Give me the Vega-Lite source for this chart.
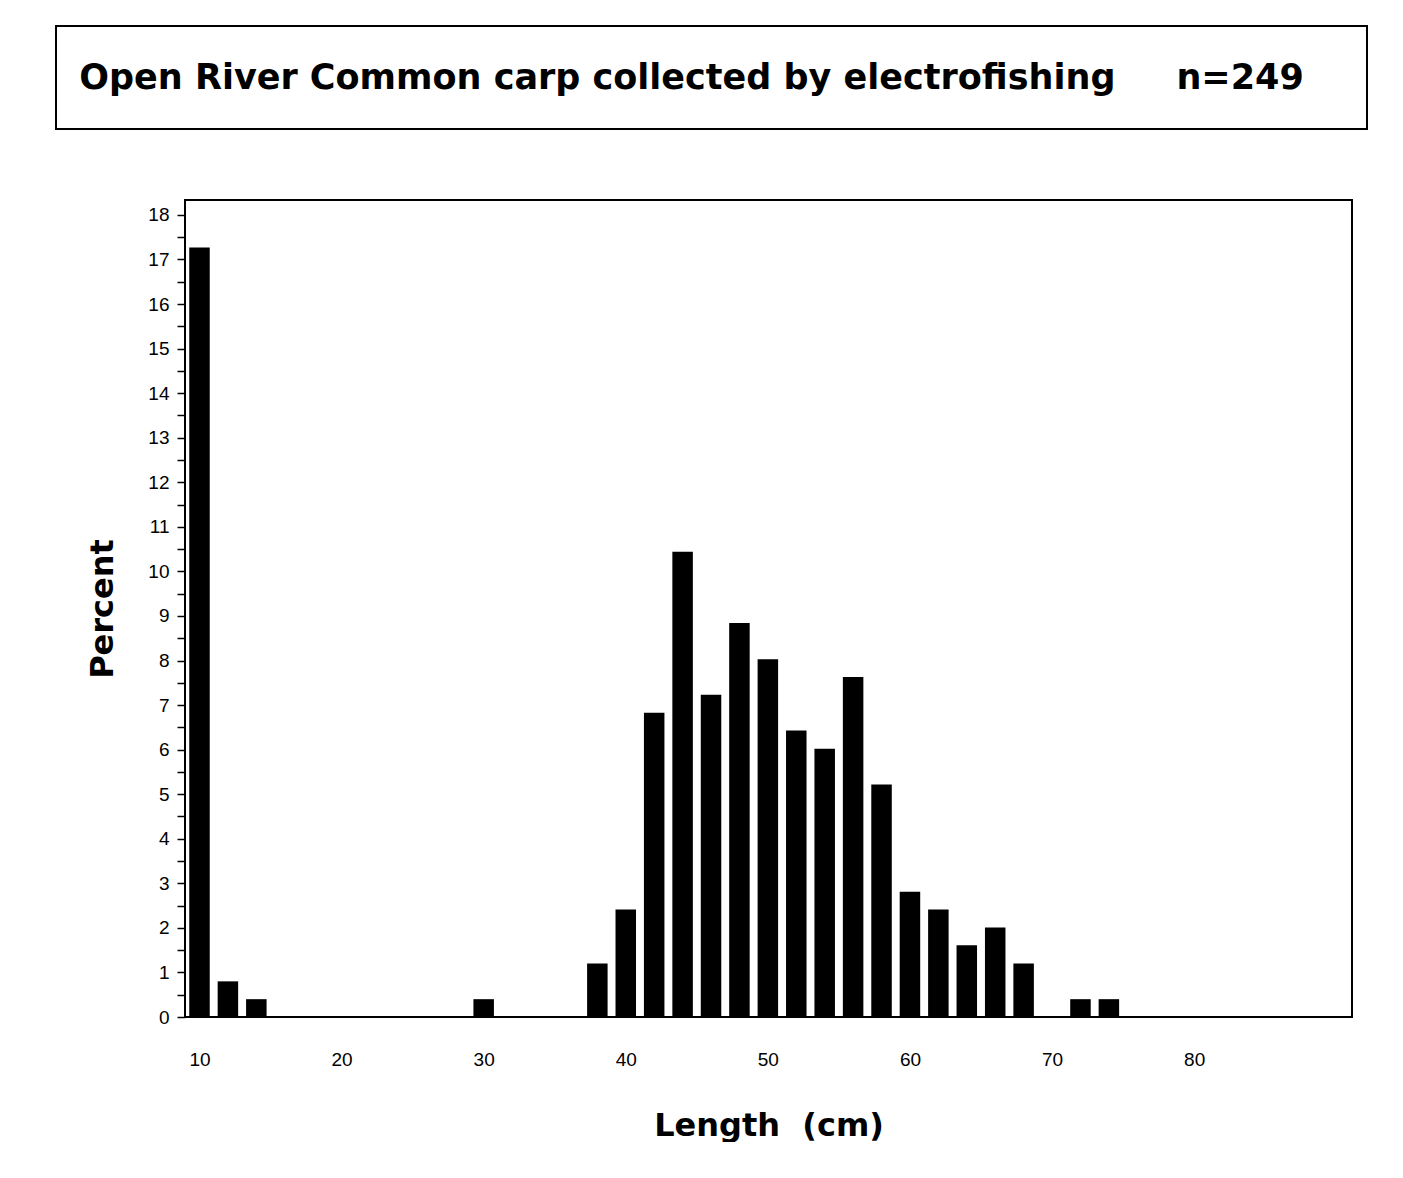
{
  "$schema": "https://vega.github.io/schema/vega-lite/v6.json",
  "background": "white",
  "padding": {"left": 55, "top": 25, "right": 0, "bottom": 0},
  "spacing": 69,
  "config": {
    "font": "DejaVu Sans",
    "axis": {"domain": false, "grid": false}
  },
  "vconcat": [
    {
      "width": 1311,
      "height": 103,
      "view": {"stroke": "black", "strokeWidth": 2, "fill": "white"},
      "data": {"values": [{"label": "Open River Common carp collected by electrofishing\u00a0\u00a0\u00a0\u00a0\u00a0n=249"}]},
      "mark": {"type": "text", "font": "DejaVu Sans", "fontWeight": "bold", "fontSize": 35, "align": "center", "baseline": "middle", "dx": -20, "color": "black"},
      "encoding": {"text": {"field": "label", "type": "nominal"}}
    },
    {
      "spacing": 28,
      "hconcat": [
        {
          "width": 1,
          "height": 1,
          "view": {"stroke": null, "fill": null},
          "data": {"values": []},
          "mark": "point",
          "encoding": {}
        },
        {
          "width": 1167,
          "height": 817,
          "view": {"stroke": "black", "strokeWidth": 2, "fill": "white"},
          "data": {"values": [
            {"length": 10, "percent": 17.27},
            {"length": 12, "percent": 0.80},
            {"length": 14, "percent": 0.40},
            {"length": 30, "percent": 0.40},
            {"length": 38, "percent": 1.20},
            {"length": 40, "percent": 2.41},
            {"length": 42, "percent": 6.83},
            {"length": 44, "percent": 10.44},
            {"length": 46, "percent": 7.23},
            {"length": 48, "percent": 8.84},
            {"length": 50, "percent": 8.03},
            {"length": 52, "percent": 6.43},
            {"length": 54, "percent": 6.02},
            {"length": 56, "percent": 7.63},
            {"length": 58, "percent": 5.22},
            {"length": 60, "percent": 2.81},
            {"length": 62, "percent": 2.41},
            {"length": 64, "percent": 1.61},
            {"length": 66, "percent": 2.01},
            {"length": 68, "percent": 1.20},
            {"length": 72, "percent": 0.40},
            {"length": 74, "percent": 0.40}
          ]},
          "mark": {"type": "bar", "color": "black", "size": 20.5},
          "encoding": {
            "x": {
              "field": "length",
              "type": "quantitative",
              "scale": {"domain": [8.98, 91.11], "nice": false, "zero": false, "padding": 0},
              "axis": {
                "values": [10, 20, 30, 40, 50, 60, 70, 80],
                "ticks": false,
                "labelPadding": 33,
                "labelFont": "Liberation Sans",
                "labelFontSize": 19,
                "labelColor": "black",
                "labelBaseline": "top",
                "title": "Length\u00a0\u00a0(cm)",
                "titleFont": "DejaVu Sans",
                "titleFontWeight": "bold",
                "titleFontSize": 32,
                "titleColor": "black",
                "titlePadding": 41
              }
            },
            "y": {
              "field": "percent",
              "type": "quantitative",
              "scale": {"domain": [0, 18.335], "nice": false, "padding": 0},
              "axis": {
                "values": [0, 0.5, 1, 1.5, 2, 2.5, 3, 3.5, 4, 4.5, 5, 5.5, 6, 6.5, 7, 7.5, 8, 8.5, 9, 9.5, 10, 10.5, 11, 11.5, 12, 12.5, 13, 13.5, 14, 14.5, 15, 15.5, 16, 16.5, 17, 17.5, 18],
                "format": ".0f",
                "labelExpr": "datum.value % 1 === 0 ? datum.label : ''",
                "ticks": true,
                "tickSize": 8,
                "tickColor": "black",
                "tickWidth": 1.5,
                "labelPadding": 8,
                "labelFont": "Liberation Sans",
                "labelFontSize": 19,
                "labelColor": "black",
                "title": "Percent",
                "titleFont": "DejaVu Sans",
                "titleFontWeight": "bold",
                "titleFontSize": 32,
                "titleColor": "black",
                "titlePadding": 28
              }
            }
          }
        }
      ]
    }
  ]
}
